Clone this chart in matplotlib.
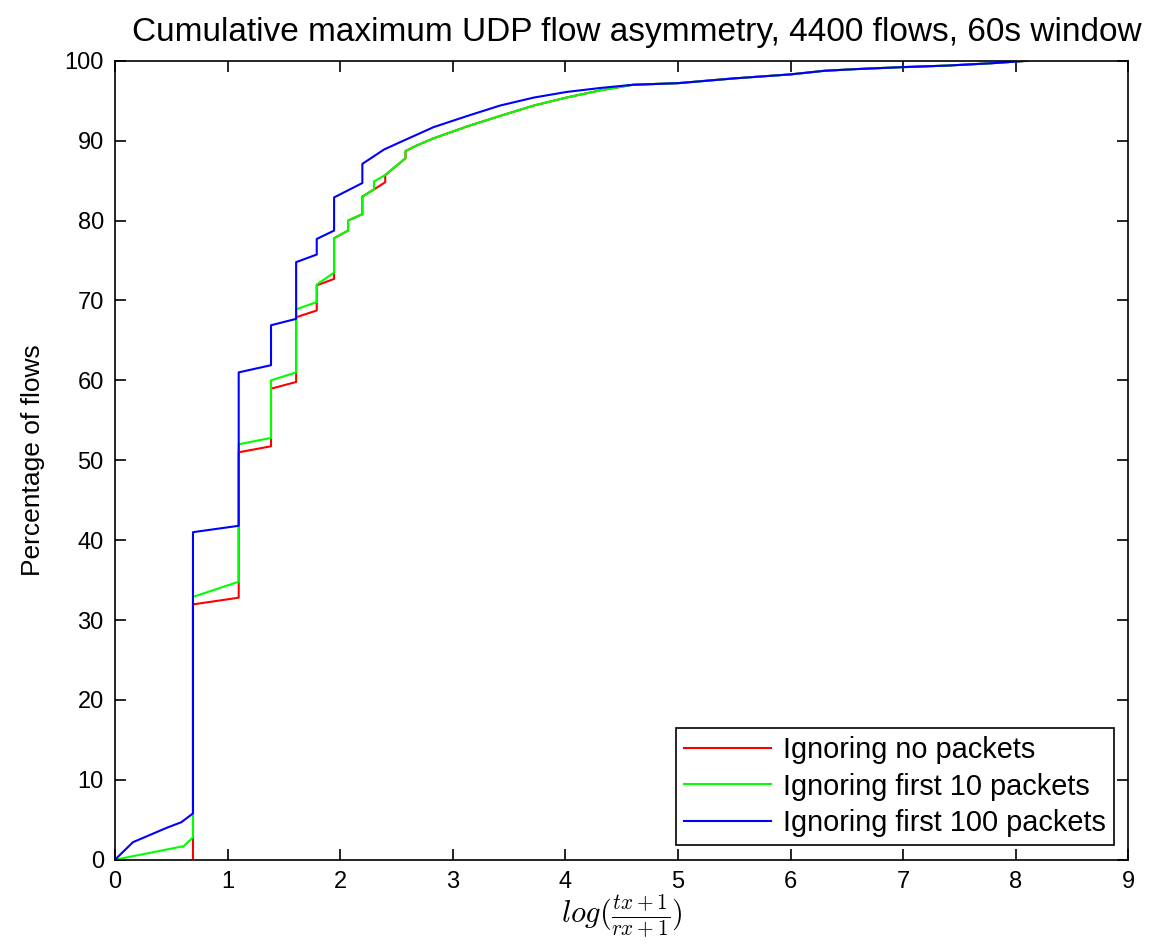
import matplotlib
matplotlib.use("Agg")
import matplotlib.pyplot as plt

title = "Cumulative maximum UDP flow asymmetry, 4400 flows, 60s window"
labels = ["Ignoring no packets", "Ignoring first 10 packets", "Ignoring first 100 packets"]

# blue: ignoring first 100 packets
x_blue = [0, 0.16, 0.46, 0.59, 0.693, 0.693, 1.099, 1.099, 1.386, 1.386, 1.609, 1.609,
          1.792, 1.792, 1.946, 1.946, 2.197, 2.197, 2.39, 2.53, 2.83, 3.13, 3.42, 3.72,
          4.01, 4.31, 4.6, 5.0, 5.5, 6.0, 6.3, 6.58, 6.98, 7.39, 7.79, 8.1]
y_blue = [0, 2.2, 4.0, 4.7, 5.8, 41.0, 41.8, 61.0, 61.9, 66.9, 67.7, 74.8,
          75.75, 77.7, 78.75, 82.9, 84.7, 87.1, 88.9, 89.8, 91.7, 93.1, 94.4, 95.4,
          96.1, 96.6, 97.0, 97.2, 97.8, 98.3, 98.75, 98.96, 99.2, 99.4, 99.7, 100]

# green: ignoring first 10 packets
x_green = [0, 0.61, 0.693, 0.693, 1.099, 1.099, 1.386, 1.386, 1.609, 1.609, 1.792, 1.792,
           1.946, 1.946, 2.07, 2.07, 2.197, 2.197, 2.30, 2.30, 2.40, 2.58, 2.58, 2.68,
           2.83, 3.13, 3.42, 3.72, 4.01, 4.31, 4.6, 5.0, 5.5, 6.0, 6.3, 6.58, 6.98,
           7.39, 7.79, 8.1]
y_green = [0, 1.7, 2.8, 32.9, 34.8, 52.0, 52.8, 60.0, 61.0, 68.9, 69.8, 72.0,
           73.5, 77.8, 78.75, 80.0, 80.8, 83.0, 83.9, 84.9, 85.7, 87.8, 88.7, 89.4,
           90.3, 91.8, 93.1, 94.4, 95.4, 96.3, 97.0, 97.2, 97.8, 98.3, 98.75, 98.96, 99.2,
           99.4, 99.7, 100]

# red: ignoring no packets
x_red = [0.693, 0.693, 1.099, 1.099, 1.386, 1.386, 1.609, 1.609, 1.792, 1.792,
         1.946, 1.946, 2.07, 2.07, 2.197, 2.197, 2.30, 2.40, 2.40, 2.58, 2.58, 2.68,
         2.83, 3.13, 3.42, 3.72, 4.01, 4.31, 4.6, 5.0, 5.5, 6.0, 6.3, 6.58, 6.98,
         7.39, 7.79, 8.1]
y_red = [0, 31.96, 32.8, 51.0, 51.75, 58.96, 59.8, 67.9, 68.75, 71.9,
         72.7, 77.8, 78.75, 80.0, 80.8, 83.0, 83.9, 84.8, 85.7, 87.8, 88.7, 89.4,
         90.3, 91.8, 93.1, 94.4, 95.4, 96.3, 97.0, 97.2, 97.8, 98.3, 98.75, 98.96, 99.2,
         99.4, 99.7, 100]

xticks = list(range(0, 10))
yticks = list(range(0, 101, 10))

plt.rcParams['font.family'] = ['Liberation Sans', 'DejaVu Sans']
plt.rcParams['mathtext.fontset'] = 'cm'

fig = plt.figure(figsize=(11.61, 9.5), dpi=100)
ax = fig.add_axes([0.099, 0.095, 0.873, 0.841])

ax.plot(x_red, y_red, color=(1, 0, 0), lw=1.5, label=labels[0])
ax.plot(x_green, y_green, color=(0, 1, 0), lw=1.5, label=labels[1])
ax.plot(x_blue, y_blue, color=(0, 0, 1), lw=1.5, label=labels[2])

ax.set_xlim(0, 9)
ax.set_ylim(0, 100)
ax.set_xticks(xticks)
ax.set_yticks(yticks)
ax.tick_params(direction='in', length=8, width=1.2, top=True, right=True,
               labelsize=17, pad=8)
for s in ax.spines.values():
    s.set_linewidth(1.2)

fig.text(637 / 1161, 1 - 32 / 950, title, fontsize=24, ha='center', va='center')
ax.set_ylabel("Percentage of flows", fontsize=19, labelpad=14)
ax.set_xlabel(r"$log(\frac{tx+1}{rx+1})$", fontsize=22, labelpad=0)

leg = ax.legend(loc='lower right', fontsize=20.8, frameon=True, fancybox=False,
                edgecolor='black', framealpha=1, handlelength=3.0, handletextpad=0.4,
                borderaxespad=0.5, labelspacing=0.28, borderpad=0.3)
leg.get_frame().set_linewidth(1.2)

fig.savefig("out.png", dpi=100)
